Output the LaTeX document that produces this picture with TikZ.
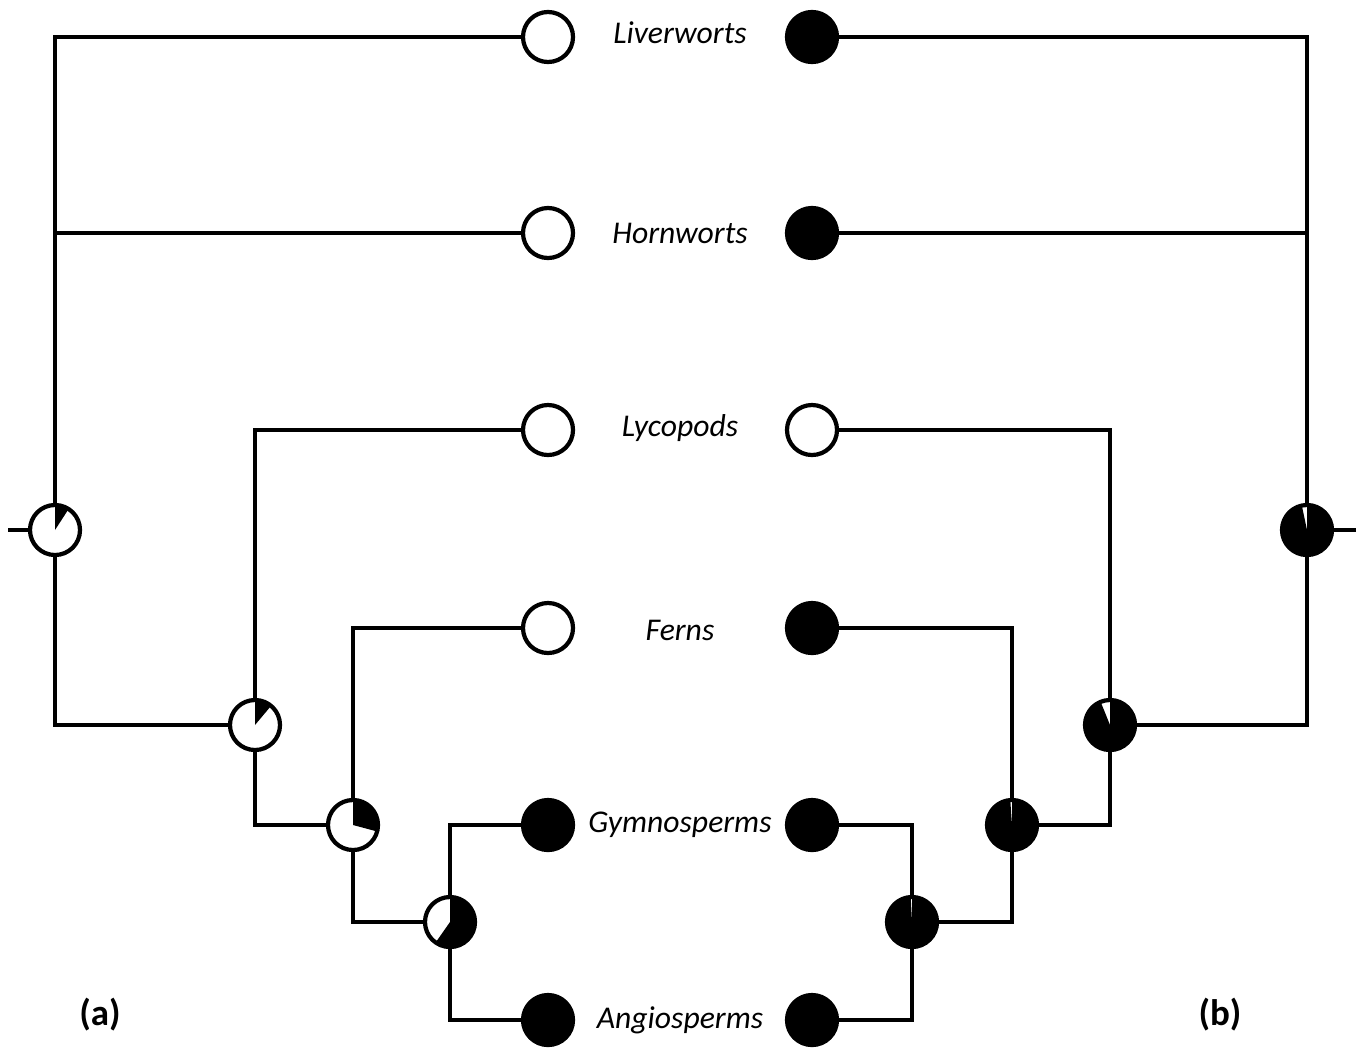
\documentclass[tikz,border=0pt]{standalone}
\usepackage{fontspec}
\setmainfont{Carlito}
\usepackage{tikz}

\tikzset{
  leafopen/.style={circle,draw,line width=1.2pt,fill=white,minimum size=0.5cm,inner sep=0pt},
  leafshut/.style={leafopen,fill=black},
  pienode/.style={leafopen},
  taxon/.style={font=\fontsize{9}{11}\selectfont\itshape},
  tag/.style={font=\fontsize{10.5}{12}\selectfont\bfseries},
  branch/.style={line width=1.2pt}
}
% black wedge from 12 o'clock, clockwise, #2 degrees
\newcommand\piewedge[2]{\fill (#1.center) -- ([shift={(90:0.25cm)}]#1.center) arc[start angle=90, delta angle=-#2, radius=0.25cm] -- cycle;}

\begin{document}
\begin{tikzpicture}[x=0.01cm,y=-0.01cm]
                      \useasboundingbox (0,0) rectangle (1364,1048);
                      
                      % tips, left side
                      \node[leafopen] (livL) at (548,37) {};
                      \node[leafopen] (horL) at (548,233) {};
                      \node[leafopen] (lycL) at (548,430) {};
                      \node[leafopen] (ferL) at (548,628) {};
                      \node[leafshut] (gymL) at (548,825) {};
                      \node[leafshut] (angL) at (548,1020) {};
                      
                      % tips, right side
                      \node[leafshut] (livR) at (812,37) {};
                      \node[leafshut] (horR) at (812,233) {};
                      \node[leafopen] (lycR) at (812,430) {};
                      \node[leafshut] (ferR) at (812,628) {};
                      \node[leafshut] (gymR) at (812,825) {};
                      \node[leafshut] (angR) at (812,1020) {};
                      
                      \node[taxon] (liv) at (680,33) {Liverworts};
                      \node[taxon] (hor) at (680,233) {Hornworts};
                      \node[taxon] (lyc) at (680,428) {Lycopods};
                      \node[taxon] (fer) at (680,630) {Ferns};
                      \node[taxon] (gym) at (680,825) {Gymnosperms};
                      \node[taxon] (ang) at (680,1020) {Angiosperms};
                      
                      % inner nodes, left tree
                      \node[pienode] (a1) at (55,530) {};
                      \node[pienode] (a2) at (255,725) {};
                      \node[pienode] (a3) at (353,825) {};
                      \node[pienode] (a4) at (450,922) {};
                      \piewedge{a1}{33}
                      \piewedge{a2}{40}
                      \piewedge{a3}{105}
                      \piewedge{a4}{215}
                      
                      % inner nodes, right tree
                      \node[pienode] (b1) at (1307,530) {};
                      \node[pienode] (b2) at (1110,725) {};
                      \node[pienode] (b3) at (1012,825) {};
                      \node[pienode] (b4) at (912,922) {};
                      \piewedge{b1}{348}
                      \piewedge{b2}{338}
                      \piewedge{b3}{356}
                      \piewedge{b4}{357}
                      
                      \coordinate (rootA) at (8,530);
                      \coordinate (rootB) at (1356,530);
                      
                      \draw[branch] (rootA) -- (a1);
                      \draw[branch] (a1) |- (livL);
                      \draw[branch] (a1) |- (horL);
                      \draw[branch] (a1) |- (a2);
                      \draw[branch] (a2) |- (lycL);
                      \draw[branch] (a2) |- (a3);
                      \draw[branch] (a3) |- (ferL);
                      \draw[branch] (a3) |- (a4);
                      \draw[branch] (a4) |- (gymL);
                      \draw[branch] (a4) |- (angL);
                      
                      \draw[branch] (rootB) -- (b1);
                      \draw[branch] (b1) |- (livR);
                      \draw[branch] (b1) |- (horR);
                      \draw[branch] (b1) |- (b2);
                      \draw[branch] (b2) |- (lycR);
                      \draw[branch] (b2) |- (b3);
                      \draw[branch] (b3) |- (ferR);
                      \draw[branch] (b3) |- (b4);
                      \draw[branch] (b4) |- (gymR);
                      \draw[branch] (b4) |- (angR);
                      
                      \node[tag] (tagA) at (100,1015) {(a)};
                      \node[tag] (tagB) at (1220,1015) {(b)};
\end{tikzpicture}
\end{document}
